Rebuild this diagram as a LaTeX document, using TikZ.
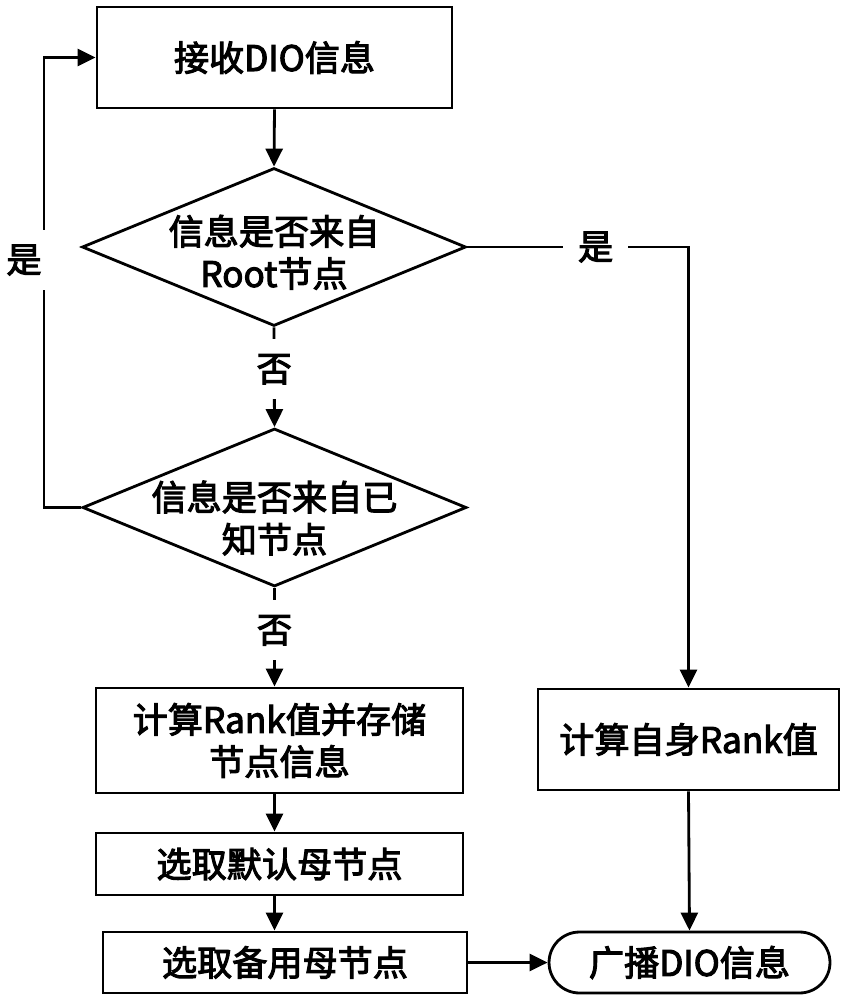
\documentclass[tikz,border=0pt]{standalone}
\usepackage{fontspec}
\setmainfont{Noto Sans CJK SC}[BoldFont={Noto Sans CJK SC}, BoldFeatures={FakeBold=3}]
\usetikzlibrary{arrows.meta, shapes.geometric}

\tikzset{
	flow/.style={line width=1.6pt, black},
	arr/.style={flow, -{Triangle[length=0.36cm, width=0.34cm]}},
	box/.style={draw, flow, rectangle, align=center, inner sep=0pt},
	cond/.style={draw, flow, diamond, inner sep=0pt, minimum width=7.68cm, minimum height=3.16cm},
	lbl/.style={fill=white, inner sep=0pt, minimum width=0.7cm, minimum height=1.2cm}
}

\begin{document}
\begin{tikzpicture}[x=0.02cm, y=-0.02cm, font=\fontsize{20pt}{24pt}\selectfont\bfseries]
		\useasboundingbox (0, 0) rectangle (844, 1000);

		\node[box, minimum width=7.1cm, minimum height=2.02cm]	(recv)	at (274.5, 57.5)	{接收DIO信息};
		\node[cond, label={[align=center, yshift=-3pt]center:信息是否来自\\Root节点}]	(root)	at (274, 247)	{};
		\node[cond, label={[align=center, yshift=-6pt]center:信息是否来自已\\知节点}]	(known)	at (274.5, 507.5)	{};
		\node[box, minimum width=7.34cm, minimum height=2.1cm]	(store)	at (279.5, 740.5)	{计算Rank值并存储\\节点信息};
		\node[box, minimum width=6.02cm, minimum height=2.02cm]	(self)	at (688.5, 739.5)	{计算自身Rank值};
		\node[box, minimum width=7.34cm, minimum height=1.24cm]	(pref)	at (279.5, 864)	{选取默认母节点};
		\node[box, minimum width=7.28cm, minimum height=1.22cm]	(backup)	at (285, 962.5)	{选取备用母节点};
		\node[box, rounded corners=0.61cm, minimum width=5.62cm, minimum height=1.22cm]	(bcast)	at (689.5, 962.5)	{广播DIO信息};

		\coordinate (loop) at (44, 57.5);

		\draw[arr]	(recv.south) to (root.north);
		\draw[arr]	(root.south) to node[lbl, pos=0.42]{否} (known.north);
		\draw[arr]	(known.south) to node[lbl, pos=0.43]{否} (known.south |- store.north);
		\draw[arr]	(store.south -| recv.south) to (pref.north -| recv.south);
		\draw[arr]	(pref.south -| recv.south) to (backup.north -| recv.south);
		\draw[arr]	(backup.east) to (bcast.west);
		\draw[arr]	(root.east) -| node[lbl, pos=0.29, minimum width=1.3cm, minimum height=0.8cm]{是} (self.north);
		\draw[arr]	(self.south) to (bcast.north);
		\draw[arr]	(known.west) -| (loop) to (recv.west);

		\node[lbl, minimum width=0.9cm]	(yes)	at (24, 260)	{是};
	\end{tikzpicture}
\end{document}
